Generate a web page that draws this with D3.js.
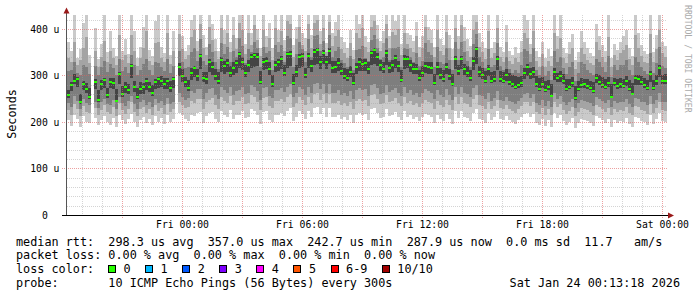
<!DOCTYPE html>
<html><head><meta charset="utf-8">
<script src="https://cdn.jsdelivr.net/npm/d3@7"></script>
<style>
html,body{margin:0;padding:0;background:#fff;}
svg{display:block;}
</style></head><body>
<svg id="c" width="697" height="297"></svg>
<script>
// ---- data (microseconds), one sample every 9 minutes from Thu 18:15 UTC ----
const median = [
259,280,288,292,243,281,271,254,null,286,
247,281,290,258,287,284,246,303,260,275,
269,320,276,254,271,276,288,276,262,287,
292,289,281,289,273,292,null,318,299,286,
273,305,315,299,342,295,292,330,319,299,
289,333,320,327,305,316,327,346,330,305,
322,340,344,340,287,328,332,314,281,322,
328,336,305,346,346,284,308,339,342,301,
342,320,351,355,328,348,330,353,316,318,
327,310,299,295,308,284,318,330,325,327,
314,348,355,340,322,314,349,316,322,338,
320,290,336,336,322,314,314,295,306,320,
318,316,284,318,301,292,319,299,281,336,
310,336,314,305,295,332,357,308,301,289,
314,289,292,336,292,289,301,287,281,276,
280,284,306,318,303,308,281,271,281,269,
275,256,308,295,299,289,271,275,284,251,
271,280,281,277,273,267,295,287,280,276,
284,254,284,277,281,277,289,271,260,295,
292,287,280,273,303,273,289,316,289,289];
const minV = [
204,192,214,206,190,212,200,198,null,208,
194,204,212,200,194,208,190,216,204,196,
206,218,200,190,204,210,198,206,194,212,
200,208,196,214,200,206,null,220,214,206,
202,216,212,220,222,198,212,220,222,206,
200,224,216,210,226,206,216,216,224,208,
210,228,224,214,196,222,224,204,200,216,
216,220,212,224,230,202,210,224,218,206,
224,210,230,232,218,230,210,230,210,210,
216,206,210,204,214,198,216,220,216,218,
204,228,230,220,208,210,228,212,216,222,
210,204,224,210,216,206,210,202,210,218,
214,210,198,216,206,202,218,206,196,224,
208,224,210,208,202,220,228,206,204,198,
220,204,210,224,206,204,212,204,200,196,
204,210,218,220,210,218,198,194,206,192,
204,190,220,208,214,202,194,200,208,188,
198,206,204,202,198,192,212,208,204,198,
206,190,204,198,202,200,208,196,190,210,
208,202,200,194,214,196,206,220,202,200];
const lo2 = [
226,214,238,228,212,234,222,220,null,230,
214,226,236,222,218,232,212,240,226,218,
228,242,222,212,228,232,220,228,216,236,
224,230,218,238,222,228,null,244,236,230,
232,246,240,250,250,228,242,248,252,236,
228,254,246,240,256,236,246,246,254,238,
240,258,254,244,226,252,254,234,230,246,
246,250,242,254,260,232,240,254,248,236,
254,240,260,262,248,260,240,260,240,240,
246,236,240,234,244,228,246,250,246,248,
234,258,260,250,238,240,258,242,246,252,
240,234,254,240,246,236,240,232,240,248,
244,240,228,246,236,232,248,236,226,254,
238,254,240,238,232,250,258,236,234,228,
244,228,234,248,230,228,236,228,224,220,
228,234,242,244,234,242,222,218,230,216,
228,214,244,232,238,226,218,224,232,212,
222,230,228,226,222,216,236,232,228,222,
230,214,228,222,226,224,232,220,214,234,
232,226,224,218,238,220,230,244,226,224];
const lo3 = [
240,232,255,246,228,250,240,236,null,244,
230,242,250,238,236,248,228,254,240,234,
245,256,238,228,244,248,236,244,232,250,
240,246,236,252,238,244,null,262,254,248,
252,266,262,270,270,250,262,270,272,258,
250,275,268,262,276,258,266,268,276,260,
262,280,275,266,248,272,276,256,252,268,
268,272,264,276,282,254,262,275,270,258,
276,262,282,284,270,282,262,282,262,262,
268,258,262,256,266,250,268,272,268,270,
256,280,282,272,260,262,280,264,268,274,
262,256,276,262,268,258,262,254,262,270,
266,262,250,268,258,254,270,258,248,276,
260,276,262,260,254,272,280,258,256,250,
262,246,252,266,248,246,254,246,242,238,
246,252,260,262,252,260,240,236,248,234,
246,232,262,250,256,244,236,242,250,230,
240,248,246,244,240,234,254,250,246,240,
248,232,246,240,244,242,250,238,232,252,
250,244,242,236,256,238,248,262,244,242];
const coreDn = [
7,13,6,17,4,12,9,5,null,15,
4,13,18,6,15,14,4,22,7,12,
9,26,12,5,10,15,19,11,6,17,
20,14,11,18,8,19,null,20,12,11,
6,15,19,10,28,9,11,22,17,8,
7,25,16,20,9,15,21,30,18,8,
14,24,26,20,5,17,19,13,6,15,
18,22,7,29,25,5,11,23,24,6,
25,13,28,31,14,23,17,29,11,12,
17,10,7,6,11,5,15,20,16,18,
11,26,31,20,12,9,26,10,14,21,
12,4,22,20,15,10,11,7,9,15,
14,13,5,17,8,6,16,8,4,23,
10,22,12,9,6,20,33,11,8,6,
15,6,7,24,7,6,13,7,6,5,
6,8,14,20,11,13,5,4,9,4,
6,3,17,10,12,7,4,5,9,3,
4,7,8,6,5,4,12,8,6,5,
9,3,7,6,7,5,11,4,3,15,
13,8,6,5,16,5,9,20,8,7];
const coreUp = [
9,6,15,5,18,8,13,20,null,7,
22,9,5,15,8,11,24,5,18,10,
12,4,12,19,14,7,6,11,17,6,
5,9,13,6,15,5,null,8,14,11,
17,10,6,14,4,13,16,6,10,15,
19,7,11,8,15,12,7,5,10,18,
11,6,5,8,22,9,7,14,21,10,
8,6,17,5,6,20,15,7,6,16,
6,13,5,4,14,7,12,5,15,13,
10,16,18,19,13,21,9,7,10,8,
14,5,4,9,12,15,6,14,11,7,
11,22,7,6,12,13,10,17,15,9,
10,12,20,10,16,19,8,14,22,5,
12,6,11,15,17,7,4,13,16,20,
9,19,17,5,18,19,13,18,20,22,
17,15,9,7,12,10,18,23,15,20,
16,25,7,11,10,14,22,18,13,26,
17,14,12,15,16,19,8,13,16,17,
12,28,11,15,13,16,9,20,24,7,
10,12,14,17,6,17,11,6,13,14];
const hi3 = [
310,312,330,306,300,322,318,304,null,320,
300,318,332,308,325,316,302,336,310,318,
306,345,322,300,312,324,335,312,302,330,
326,318,310,335,306,320,null,352,330,315,
318,350,360,332,378,332,322,368,350,330,
314,370,346,362,330,352,340,380,364,326,
356,350,372,360,318,362,348,352,312,366,
350,366,330,384,380,318,346,372,356,330,
378,340,384,388,352,374,336,386,340,352,
362,334,326,318,342,312,354,356,364,338,
332,376,386,358,336,340,380,334,358,360,
362,318,360,356,340,330,348,320,332,370,
350,344,318,362,330,324,358,334,312,372,
334,372,350,332,318,368,390,340,330,316,
356,318,322,370,320,312,340,314,306,312,
305,322,356,352,330,358,312,300,320,298,
310,290,352,330,340,316,304,318,328,288,
306,330,324,312,306,300,336,330,318,308,
342,296,322,312,322,322,334,312,300,340,
330,318,310,304,348,306,326,362,320,316];
const hi2 = [
338,330,372,322,334,360,382,326,null,352,
318,340,375,330,352,338,322,386,334,344,
326,388,352,320,338,360,395,332,322,370,
372,338,330,392,325,352,null,390,356,335,
344,382,398,352,410,360,344,405,376,352,
335,402,368,392,350,388,356,412,398,346,
392,366,408,376,342,398,362,380,334,402,
372,396,352,418,410,340,378,404,366,352,
410,360,412,420,368,402,350,415,364,385,
398,356,348,338,370,336,392,380,402,362,
350,405,418,378,352,370,410,358,394,386,
400,345,392,368,360,350,384,340,358,404,
376,370,340,398,352,344,394,360,334,402,
356,408,374,352,340,398,415,362,350,336,
395,338,348,402,340,330,372,332,325,338,
328,350,392,380,346,396,332,318,346,318,
332,320,392,356,380,338,326,346,360,314,
328,360,346,334,326,322,372,355,340,330,
382,318,344,334,348,354,366,336,322,388,
360,342,330,326,390,330,356,398,348,340];
const maxV = [
372,352,430,338,356,412,430,344,null,402,
335,368,430,350,395,360,342,430,352,378,
346,430,395,338,362,405,430,355,341,418,
430,362,348,430,345,395,null,430,385,352,
366,420,430,375,430,388,362,430,410,378,
352,430,398,430,372,425,380,430,430,368,
430,392,430,400,360,430,385,412,358,430,
398,430,376,430,430,365,404,430,392,380,
430,388,430,430,395,430,370,430,392,415,
430,382,372,360,398,355,430,410,430,385,
372,430,430,408,375,395,430,384,430,418,
430,368,430,392,386,375,415,362,384,430,
405,398,362,430,378,366,430,388,356,430,
384,430,405,378,364,430,430,392,372,360,
430,358,372,430,362,350,408,352,345,362,
348,375,430,420,368,430,352,340,372,338,
356,342,430,385,430,360,348,372,390,334,
350,395,372,358,348,342,410,385,366,352,
430,338,368,355,372,384,398,360,342,430,
392,365,352,346,430,350,388,430,372,364];

const yTicks = [0, 100, 200, 300, 400];
const xTickHours = ["2026-01-23T00:00Z","2026-01-23T06:00Z","2026-01-23T12:00Z","2026-01-23T18:00Z","2026-01-24T00:00Z"];
const legendLines = [
  "median rtt:  298.3 us avg  357.0 us max  242.7 us min  287.9 us now  0.0 ms sd  11.7   am/s",
  "packet loss: 0.00 % avg  0.00 % max  0.00 % min  0.00 % now",
  "loss color:",
  "probe:       10 ICMP Echo Pings (56 Bytes) every 300s"
];
const lossLabels = ["0","1","2","3","4","5","6-9","10/10"];
const lossColors = ["#26ff00","#00b8ff","#0059ff","#7e00ff","#ff00ff","#ff5500","#ff0000","#a10000"];
const stampText = "Sat Jan 24 00:13:18 2026";
const yTitle = "Seconds";
const watermark = "RRDTOOL / TOBI OETIKER";

// ---- drawing ----
const MONO = "'DejaVu Sans Mono', 'Liberation Mono', monospace";
const svg = d3.select("#c");
svg.append("rect").attr("width", 697).attr("height", 297).attr("fill", "#fff");

const N = median.length;
const start = Date.UTC(2026, 0, 22, 18, 15);
const stepMs = 9 * 60 * 1000;
const t = i => new Date(start + i * stepMs);
const x = d3.scaleUtc().domain([t(0), t(N)]).range([67, 667]);
const y = d3.scaleLinear().domain([0, 430]).range([215, 15]);
const yMax = y.domain()[1];

svg.append("defs").append("clipPath").attr("id", "plot")
  .append("rect").attr("x", 67).attr("y", 15).attr("width", 600).attr("height", 200);

const plot = svg.append("g").attr("clip-path", "url(#plot)").attr("shape-rendering", "crispEdges");
const idx = d3.range(N).filter(i => median[i] != null);

const bands = [
  {lo: i => minV[i], hi: i => maxV[i], color: "#cacaca"},
  {lo: i => lo2[i], hi: i => hi2[i], color: "#a4a4a4"},
  {lo: i => lo3[i], hi: i => hi3[i], color: "#7e7e7e"},
  {lo: i => median[i] - coreDn[i], hi: i => median[i] + coreUp[i], color: "#444444"}
];
bands.forEach(b => {
  plot.append("g").selectAll("rect").data(idx).join("rect")
    .attr("x", i => x(t(i)))
    .attr("width", i => x(t(i + 1)) - x(t(i)))
    .attr("y", i => y(Math.min(b.hi(i), yMax)))
    .attr("height", i => y(b.lo(i)) - y(Math.min(b.hi(i), yMax)))
    .attr("fill", b.color);
});
plot.append("g").selectAll("rect").data(idx).join("rect")
  .attr("x", i => x(t(i)))
  .attr("width", i => x(t(i + 1)) - x(t(i)))
  .attr("y", i => y(median[i]) - 1)
  .attr("height", 2)
  .attr("fill", lossColors[0]);

// grid on top (semi-transparent like rrdtool)
const grid = svg.append("g").attr("shape-rendering", "crispEdges");
const minorY = d3.range(20, 430, 20).filter(v => v % 100 !== 0);
grid.selectAll(".hm").data(minorY).join("line")
  .attr("x1", 67).attr("x2", 667).attr("y1", d => Math.round(y(d)) + 0.5).attr("y2", d => Math.round(y(d)) + 0.5)
  .attr("stroke", "#a0a0a0").attr("stroke-opacity", 0.45).attr("stroke-dasharray", "1,1");
const hours = d3.utcHour.range(t(0), t(N));
const majorX = hours.filter(h => h.getUTCHours() % 3 === 0);
const minorX = hours.filter(h => h.getUTCHours() % 3 !== 0);
grid.selectAll(".vm").data(minorX).join("line")
  .attr("x1", d => Math.round(x(d)) + 0.5).attr("x2", d => Math.round(x(d)) + 0.5)
  .attr("y1", 15).attr("y2", 215)
  .attr("stroke", "#a0a0a0").attr("stroke-opacity", 0.45).attr("stroke-dasharray", "1,1");
grid.selectAll(".hM").data(yTicks.filter(v => v > 0)).join("line")
  .attr("x1", 62).attr("x2", 667).attr("y1", d => Math.round(y(d)) + 0.5).attr("y2", d => Math.round(y(d)) + 0.5)
  .attr("stroke", "#e06060").attr("stroke-opacity", 0.6).attr("stroke-dasharray", "1,1");
grid.selectAll(".vM").data(majorX).join("line")
  .attr("x1", d => Math.round(x(d)) + 0.5).attr("x2", d => Math.round(x(d)) + 0.5)
  .attr("y1", 15).attr("y2", 219)
  .attr("stroke", "#e06060").attr("stroke-opacity", 0.6).attr("stroke-dasharray", "1,1");

// axes lines + arrows
svg.append("line").attr("x1", 66.5).attr("x2", 66.5).attr("y1", 216).attr("y2", 12)
  .attr("stroke", "#555").attr("shape-rendering", "crispEdges");
svg.append("line").attr("x1", 62).attr("x2", 669).attr("y1", 215.5).attr("y2", 215.5)
  .attr("stroke", "#000").attr("shape-rendering", "crispEdges");
svg.append("path").attr("d", "M63.5,13.5 L69.5,13.5 L66.5,7.5 Z").attr("fill", "#9a1a1a");
svg.append("path").attr("d", "M668,212.5 L668,218.5 L674,215.5 Z").attr("fill", "#9a1a1a");

// y axis labels
const gy = svg.append("g").attr("transform", "translate(66.5,0)")
  .call(d3.axisLeft(y).tickValues(yTicks).tickSize(0).tickPadding(7)
    .tickFormat(d => d === 0 ? "0  " : d + " u"));
gy.select(".domain").remove();
gy.attr("font-family", MONO).attr("font-size", 9.75);
gy.selectAll("text").style("white-space", "pre").attr("fill", "#000");

// x axis labels
const gx = svg.append("g").attr("transform", "translate(0,215)")
  .call(d3.axisBottom(x).tickValues(xTickHours.map(s => new Date(s))).tickSize(0)
    .tickFormat(d3.utcFormat("%a %H:%M")));
gx.select(".domain").remove();
gx.attr("font-family", MONO).attr("font-size", 9.75);
gx.selectAll("text").attr("dy", null).attr("y", 13).attr("fill", "#000");

// titles
svg.append("text").attr("transform", "translate(15.5,114) rotate(-90)")
  .attr("text-anchor", "middle").attr("font-family", MONO).attr("font-size", 11.8)
  .attr("fill", "#000").text(yTitle);
svg.append("text").attr("transform", "translate(684.5,5) rotate(90)")
  .attr("text-anchor", "start").attr("font-family", MONO).attr("font-size", 8.15)
  .attr("fill", "#aaaaaa").text(watermark);

// legend
const lg = svg.append("g").attr("font-family", MONO).attr("font-size", 11.8).attr("fill", "#000");
const baseY = [245.5, 259.2, 272.9, 286.6];
legendLines.forEach((s, k) => {
  lg.append("text").attr("x", 16).attr("y", baseY[k]).style("white-space", "pre").text(s);
});
let bx = 108;
lossLabels.forEach((lab, k) => {
  lg.append("rect").attr("x", bx + 0.5).attr("y", 265.5).attr("width", 7).attr("height", 7)
    .attr("fill", lossColors[k]).attr("stroke", "#000").attr("stroke-width", 1)
    .attr("shape-rendering", "crispEdges");
  lg.append("text").attr("x", bx + 15.5).attr("y", baseY[2]).text(lab);
  bx += 15 + lab.length * 7.09 + 15;
});
lg.append("text").attr("x", 680).attr("y", baseY[3]).attr("text-anchor", "end").text(stampText);
</script>
</body></html>
